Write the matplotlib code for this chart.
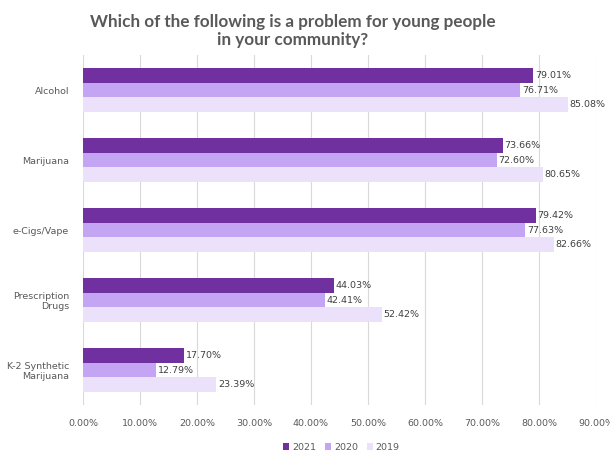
import matplotlib
matplotlib.use("Agg")
import matplotlib.pyplot as plt
import numpy as np
from matplotlib.ticker import FuncFormatter, MultipleLocator

categories = ["Alcohol", "Marijuana", "e-Cigs/Vape", "Prescription\nDrugs", "K-2 Synthetic\nMarijuana"]
series_names = ["2021", "2020", "2019"]
v2021 = [79.01, 73.66, 79.42, 44.03, 17.70]
v2020 = [76.71, 72.60, 77.63, 42.41, 12.79]
v2019 = [85.08, 80.65, 82.66, 52.42, 23.39]
colors = ["#7030A0", "#C3A5F4", "#EBE1FB"]

plt.rcParams['font.family'] = ['DejaVu Sans']

fig = plt.figure(figsize=(6.1, 4.51), dpi=100)
ax = fig.add_axes([0.136, 0.102, 0.977 - 0.136, 0.878 - 0.102])

n = len(categories)
y = np.arange(n)
h = 0.205
vals = [v2021, v2020, v2019]
for i, (name, v, c) in enumerate(zip(series_names, vals, colors)):
    pos = y + (i - 1) * h
    ax.barh(pos, np.array(v) / 100, height=h, color=c, label=name, zorder=3)
    for p, val in zip(pos, v):
        ax.text(val / 100 + 0.003, p, f"{val:.2f}%", va="center", ha="left",
                fontsize=6.8, color="#404040")

ax.set_ylim(n - 0.5, -0.5)
ax.set_xlim(0, 0.9)
ax.xaxis.set_major_locator(MultipleLocator(0.1))
ax.xaxis.set_major_formatter(FuncFormatter(lambda x, p: f"{x*100:.2f}%"))
ax.set_yticks(y)
ax.set_yticklabels(categories, fontsize=6.8, color="#595959")
ax.tick_params(axis="x", labelsize=6.8, labelcolor="#595959", length=0, pad=10)
ax.tick_params(axis="y", length=0, pad=10)
ax.grid(axis="x", color="#D9D9D9", linewidth=0.8, zorder=0)
for s in ax.spines.values():
    s.set_visible(False)

fig.text(0.48, 0.97, "Which of the following is a problem for young people\nin your community?",
         fontsize=12.3, fontweight="bold", color="#595959", ha="center", va="top",
         family=["Lato", "DejaVu Sans"], linespacing=1.2)

leg = fig.legend(loc="lower center", bbox_to_anchor=(0.56, -0.02), ncol=3, frameon=False,
                 fontsize=6.8, handlelength=0.6, handleheight=0.7, columnspacing=1.0,
                 handletextpad=0.3)
for t in leg.get_texts():
    t.set_color("#595959")

fig.savefig("out.png", dpi=100)
